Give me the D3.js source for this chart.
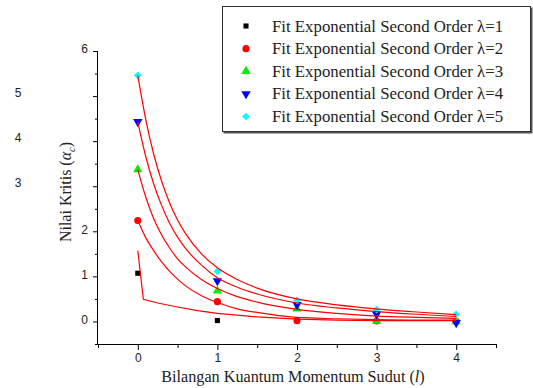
<!DOCTYPE html>
<html>
<head>
<meta charset="utf-8">
<script src="https://cdn.jsdelivr.net/npm/d3@7"></script>
<style>
  body { margin: 0; background: #fff; }
  svg { display: block; }
</style>
</head>
<body>
<svg id="chart" width="533" height="388"></svg>
<script>
// measured points
const lValues = [0, 1, 2, 3, 4];
const lambda1 = [1.07, 0.02, 0.01, 0.00, 0.00];
const lambda2 = [2.24, 0.44, 0.02, 0.01, 0.00];
const lambda3 = [3.37, 0.68, 0.28, 0.01, 0.00];
const lambda4 = [4.43, 0.90, 0.37, 0.16, -0.03];
const lambda5 = [5.46, 1.11, 0.47, 0.26, 0.16];

// fit curves
const fitX = [0, 0.1, 0.2, 0.3, 0.4, 0.5, 0.6, 0.8, 1, 1.25, 1.5, 2, 2.5, 3, 3.5, 4];
const fit5 = [5.46, 4.48, 3.71, 3.11, 2.63, 2.25, 1.95, 1.50, 1.19, 0.93, 0.74, 0.50, 0.37, 0.28, 0.21, 0.15];
const fit4 = [4.43, 3.66, 3.05, 2.57, 2.18, 1.87, 1.62, 1.25, 0.97, 0.76, 0.61, 0.41, 0.30, 0.22, 0.16, 0.11];
const fit3 = [3.37, 2.76, 2.28, 1.92, 1.63, 1.39, 1.21, 0.93, 0.73, 0.55, 0.43, 0.27, 0.18, 0.12, 0.09, 0.07];
const fit2 = [2.24, 1.86, 1.57, 1.32, 1.11, 0.94, 0.79, 0.57, 0.42, 0.28, 0.20, 0.09, 0.06, 0.04, 0.03, 0.03];
const fit1X = [0, 0.07, 0.25, 0.5, 0.75, 1, 1.25, 1.5, 2, 2.5, 3, 3.5, 4];
const fit1 = [1.57, 0.49, 0.41, 0.32, 0.24, 0.18, 0.14, 0.10, 0.05, 0.03, 0.02, 0.02, 0.02];

const xTicks = [0, 1, 2, 3, 4];
const yTicks = [0, 1, 2, 3, 4, 5, 6];
const yLabelsOnAxis = [0, 1, 2, 6];
const yLabelsAside = [3, 4, 5];
const legendLabels = ['λ=1', 'λ=2', 'λ=3', 'λ=4', 'λ=5'];

const svg = d3.select('#chart');
const serif = 'Liberation Serif, Times New Roman, serif';
const sans = 'Liberation Sans, Arial, sans-serif';

const x = d3.scaleLinear().domain([-0.5, 4.5]).range([98, 496]);
const y = d3.scaleLinear().domain([-0.5, 6]).range([344, 51]);

const series = [
  { vals: lambda1, color: '#000000', type: d3.symbolSquare, size: 26, rot: 0 },
  { vals: lambda2, color: '#ff0000', type: d3.symbolCircle, size: 40, rot: 0 },
  { vals: lambda3, color: '#00ee00', type: d3.symbolTriangle, size: 38, rot: 0 },
  { vals: lambda4, color: '#0000ff', type: d3.symbolTriangle, size: 38, rot: 180 },
  { vals: lambda5, color: '#00ffff', type: d3.symbolSquare, size: 30, rot: 45 }
];

// axes
const minor = d3.range(-0.5, 4.51, 1);
svg.append('g')
  .attr('transform', `translate(0,${y(-0.5)})`)
  .call(d3.axisBottom(x).tickValues(minor).tickSize(4).tickFormat(''))
  .call(g => g.select('.domain').remove());
svg.append('g')
  .attr('transform', `translate(0,${y(-0.5)})`)
  .call(d3.axisBottom(x).tickValues(xTicks).tickSize(6).tickPadding(3).tickFormat(d3.format('d')))
  .call(g => g.select('.domain').attr('d', `M${x(-0.5)},0.5H${x(4.5)}`))
  .call(g => g.selectAll('text').attr('font-family', sans).attr('font-size', 12).attr('fill', '#222'));

const yMinor = d3.range(-0.5, 6, 1);
svg.append('g')
  .attr('transform', `translate(${x(-0.5)},0)`)
  .call(d3.axisLeft(y).tickValues(yMinor).tickSize(3).tickFormat(''))
  .call(g => g.select('.domain').remove());
svg.append('g')
  .attr('transform', `translate(${x(-0.5)},0)`)
  .call(d3.axisLeft(y).tickValues(yTicks).tickSize(5).tickPadding(5)
    .tickFormat(d => yLabelsOnAxis.includes(d) ? d : ''))
  .call(g => g.select('.domain').attr('d', `M-0.5,${y(-0.5)}V${y(6)}`))
  .call(g => g.selectAll('text').attr('font-family', sans).attr('font-size', 12).attr('fill', '#222').attr('dy', '0.15em'));

svg.append('g').selectAll('text')
  .data(yLabelsAside)
  .join('text')
  .attr('x', 18)
  .attr('y', d => y(d) - 3)
  .attr('dy', '0.32em')
  .attr('text-anchor', 'middle')
  .attr('font-family', sans)
  .attr('font-size', 12)
  .attr('fill', '#222')
  .text(d => d);

// points
series.forEach(s => {
  svg.append('g').selectAll('path')
    .data(s.vals)
    .join('path')
    .attr('transform', (d, i) => `translate(${x(lValues[i])},${y(d)}) rotate(${s.rot})`)
    .attr('d', d3.symbol().type(s.type).size(s.size))
    .attr('fill', s.color);
});

// fit lines
const lineGen = d3.line()
  .x(d => x(d[0]))
  .y(d => y(d[1]))
  .curve(d3.curveMonotoneX);

[fit2, fit3, fit4, fit5].forEach(f => {
  svg.append('path')
    .datum(fitX.map((v, i) => [v, f[i]]))
    .attr('d', lineGen)
    .attr('fill', 'none')
    .attr('stroke', '#ff0000')
    .attr('stroke-width', 1.2);
});
svg.append('path')
  .datum(fit1X.map((v, i) => [v, fit1[i]]))
  .attr('d', lineGen.curve(d3.curveLinear))
  .attr('fill', 'none')
  .attr('stroke', '#ff0000')
  .attr('stroke-width', 1.2);

// axis titles
svg.append('text')
  .attr('x', 293)
  .attr('y', 382)
  .attr('text-anchor', 'middle')
  .attr('font-family', serif)
  .attr('font-size', 16.2)
  .attr('fill', '#222')
  .call(t => {
    t.append('tspan').text('Bilangan Kuantum Momentum Sudut (');
    t.append('tspan').attr('font-style', 'italic').text('l');
    t.append('tspan').text(')');
  });

svg.append('text')
  .attr('transform', 'translate(71,192) rotate(-90)')
  .attr('text-anchor', 'middle')
  .attr('font-family', serif)
  .attr('font-size', 16)
  .attr('fill', '#222')
  .call(t => {
    t.append('tspan').text('Nilai Kritis (');
    t.append('tspan').attr('font-style', 'italic').text('α');
    t.append('tspan').attr('font-style', 'italic').attr('font-size', 10.5).attr('dy', 4).text('c');
    t.append('tspan').attr('dy', -4).text(')');
  });

// legend
const legend = svg.append('g');
legend.append('rect')
  .attr('x', 223.5).attr('y', 7.5).attr('width', 309).attr('height', 126)
  .attr('fill', '#555');
legend.append('rect')
  .attr('x', 222.5).attr('y', 6.5).attr('width', 308).attr('height', 125)
  .attr('fill', '#fff').attr('stroke', '#333').attr('stroke-width', 1);

const rowY = d3.scaleLinear().domain([0, 4]).range([26, 116.5]);
series.forEach((s, i) => {
  legend.append('path')
    .attr('transform', `translate(246,${rowY(i)}) rotate(${s.rot})`)
    .attr('d', d3.symbol().type(s.type).size(s.size))
    .attr('fill', s.color);
  legend.append('text')
    .attr('x', 272)
    .attr('y', rowY(i) + 5.5)
    .attr('font-family', serif)
    .attr('font-size', 16.8)
    .attr('fill', '#222')
    .text('Fit Exponential Second Order ' + legendLabels[i]);
});
</script>
</body>
</html>
